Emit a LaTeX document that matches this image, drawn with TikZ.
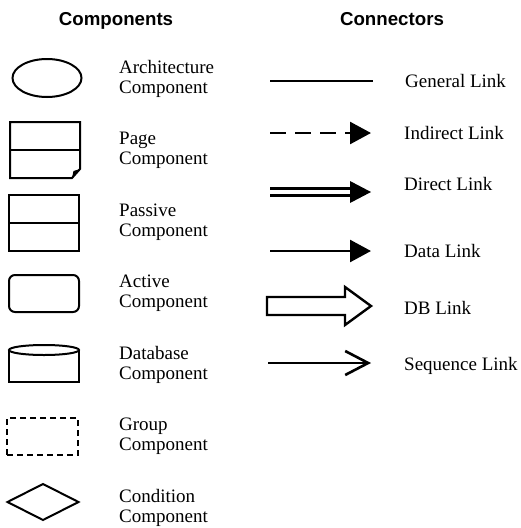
\documentclass[tikz,border=0pt]{standalone}
\usepackage{fontspec}
\setmainfont{Liberation Serif}
\newfontfamily\headfont{Liberation Sans}
\usepackage{tikz}
\usetikzlibrary{arrows.meta,shapes.geometric}

\begin{document}
\begin{tikzpicture}[x=1pt,y=-1pt,
		shp/.style={draw,line width=2pt,inner sep=0pt,outer sep=0pt},
		txt/.style={anchor=west,align=left,inner sep=0pt,font=\fontsize{19}{20}\selectfont},
		lbl/.style={anchor=base west,inner sep=0pt,font=\fontsize{19}{20}\selectfont},
		head/.style={anchor=base,inner sep=0pt,font=\headfont\bfseries\fontsize{18.7}{22}\selectfont},
		lnk/.style={line width=2.6pt},
		tip/.style={-{Triangle[length=21pt,width=22pt]}}]
		\useasboundingbox (0,0) rectangle (520,528);
		
		%%%%% HEADERS %%%%%
		\node[head] (comp) at (116,25) {Components};
		\node[head] (conn) at (392,25) {Connectors};
		
		%%%%% COMPONENTS %%%%%
		\node[shp,ellipse,minimum width=69pt,minimum height=38pt] (arch) at (47,78) {};
		\node[txt] (t-arch) at (119,79) {Architecture\\Component};
		
		\draw[shp] (10,122) -- (80,122) -- (80,169) -- (72,178) -- (10,178) -- cycle;
		\draw[shp] (10,150) -- (80,150);
		\fill (80,169) -- (72,178) -- (73.5,171) -- cycle;
		\node[txt] (t-page) at (119,150.5) {Page\\Component};
		
		\node[shp,minimum width=70pt,minimum height=56pt] (passive) at (44,223) {};
		\draw[shp] (passive.west) -- (passive.east);
		\node[txt] (t-passive) at (119,222) {Passive\\Component};
		
		\node[shp,rounded corners=6pt,minimum width=70pt,minimum height=37pt] (active) at (44,293.5) {};
		\node[txt] (t-active) at (119,293.5) {Active\\Component};
		
		\draw[shp] (9,350) -- (9,382) -- (79,382) -- (79,350);
		\draw[shp] (44,350) ellipse [x radius=35, y radius=5];
		\node[txt] (t-db) at (119,365) {Database\\Component};
		
		\node[shp,dash pattern=on 6pt off 4pt,minimum width=71pt,minimum height=37pt] (group) at (42.5,436.5) {};
		\node[txt] (t-group) at (119,436.5) {Group\\Component};
		
		\node[shp,diamond,minimum width=71pt,minimum height=36pt] (cond) at (43,502) {};
		\node[txt] (t-cond) at (119,508) {Condition\\Component};
		
		%%%%% CONNECTORS %%%%%
		\coordinate (gen-a) at (270,81);
		\coordinate (gen-b) at (373,81);
		\draw[lnk] (gen-a) -- (gen-b);
		\node[lbl] (t-gen) at (405,87.5) {General Link};
		
		\coordinate (ind-a) at (270,133);
		\coordinate (ind-b) at (371,133);
		\draw[lnk,dash pattern=on 16pt off 9pt,tip] (ind-a) -- (ind-b);
		\node[lbl] (t-ind) at (404,139.5) {Indirect Link};
		
		\coordinate (dir-a) at (270,192);
		\coordinate (dir-b) at (371,192);
		\draw[line width=2.2pt] ([yshift=-3.5pt]dir-a) -- ([xshift=-19pt,yshift=-3.5pt]dir-b);
		\draw[line width=2.2pt] ([yshift=3.5pt]dir-a) -- ([xshift=-19pt,yshift=3.5pt]dir-b);
		\fill ([xshift=-21pt,yshift=-11pt]dir-b) -- (dir-b) -- ([xshift=-21pt,yshift=11pt]dir-b) -- cycle;
		\node[lbl] (t-dir) at (404,190.5) {Direct Link};
		
		\coordinate (dat-a) at (270,251);
		\coordinate (dat-b) at (371,251);
		\draw[lnk,tip] (dat-a) -- (dat-b);
		\node[lbl] (t-dat) at (404,257.5) {Data Link};
		
		\draw[shp,line width=2.4pt] (267,297) -- (345,297) -- (345,287) -- (371,306)
			-- (345,325) -- (345,315) -- (267,315) -- cycle;
		\node[lbl] (t-dbl) at (404,314.5) {DB Link};
		
		\coordinate (seq-a) at (268,363);
		\coordinate (seq-b) at (371,363);
		\draw[lnk,-{Straight Barb[length=23pt,width=24pt]}] (seq-a) -- (seq-b);
		\node[lbl] (t-seq) at (404,370.5) {Sequence Link};
		
	\end{tikzpicture}
\end{document}
